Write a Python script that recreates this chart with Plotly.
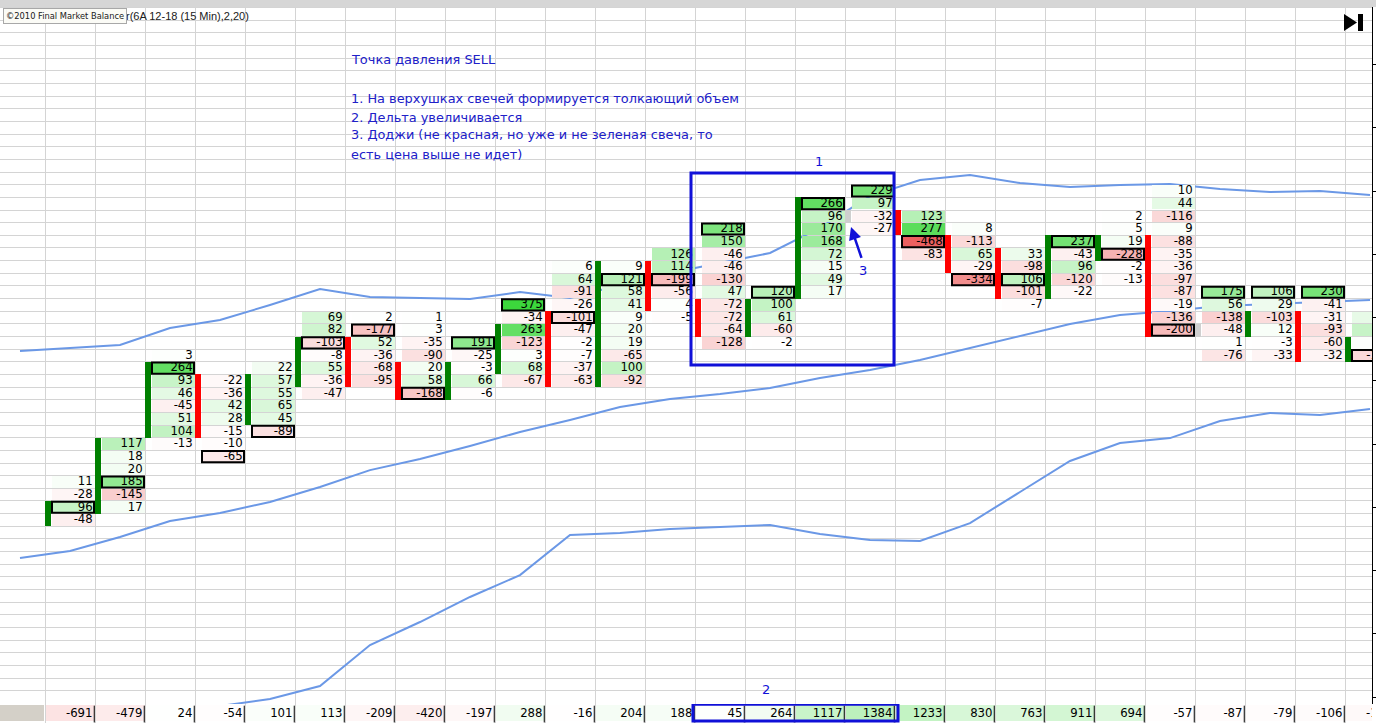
import plotly.graph_objects as go

# ---------------- data ----------------
# each candle column: top row (row 0 = upper price level, increasing downward), cell deltas top->bottom
candle_top_rows = [23, 20, 13, 15, 14, 10, 10, 10, 12, 9, 6, 6, 5, 3, 8, 1, 0, 2, 3, 5, 4, 2, 0, 8, 8, 8, 10]
candle_values = [
    [11, -28, 96, -48],
    [117, 18, 20, 185, -145, 17],
    [3, 264, 93, 46, -45, 51, 104, -13],
    [-22, -36, 42, 28, -15, -10, -65],
    [22, 57, 55, 65, 45, -89],
    [69, 82, -103, -8, 55, -36, -47],
    [2, -177, 52, -36, -68, -95],
    [1, 3, -35, -90, 20, 58, -168],
    [191, -25, -3, 66, -6],
    [375, -34, 263, -123, 3, 68, -67],
    [6, 64, -91, -26, -101, -47, -2, -7, -37, -63],
    [9, 121, 58, 41, 9, 20, 19, -65, 100, -92],
    [126, 114, -199, -56, 4, -5],
    [218, 150, -46, -46, -130, 47, -72, -72, -64, -128],
    [120, 100, 61, -60, -2],
    [266, 96, 170, 168, 72, 15, 49, 17],
    [229, 97, -32, -27],
    [123, 277, -468, -83],
    [8, -113, 65, -29, -334],
    [33, -98, 106, -101, -7],
    [237, -43, 96, -120, -22],
    [2, 5, 19, -228, -2, -13],
    [10, 44, -116, 9, -88, -35, -36, -97, -87, -19, -136, -200],
    [175, 56, -138, -48, 1, -76],
    [106, 29, -103, 12, -3, -33],
    [230, -41, -31, -93, -60, -32],
    [40, 95, 5, -110],
]
# index of the max-volume (boxed) cell in each candle
box_index = [2, 3, 1, 6, 5, 2, 1, 6, 0, 0, 4, 1, 2, 0, 0, 0, 0, 2, 4, 2, 0, 3, 11, 0, 0, 0, 3]
# candle body (open/close rows) and direction
body_top = [25, 20, 14, 15, 15, 12, 12, 14, 14, 11, 10, 6, 6, 9, 9, 1, 2, 2, 4, 5, 4, 4, 4, 11, 10, 10, 12]
body_bottom = [26, 25, 19, 19, 18, 15, 15, 16, 16, 14, 15, 15, 9, 11, 11, 8, 2, 3, 6, 8, 8, 5, 11, 11, 11, 13, 13]
body_dir = ["up", "up", "up", "down", "up", "up", "down", "down", "up", "up", "down", "up", "down", "down",
            "up", "up", "doji", "down", "down", "down", "up", "up", "down", "doji", "up", "down", "up"]
# bar delta row
delta_values = [-691, -479, 24, -54, 101, 113, -209, -420, -197, 288, -16, 204, 188, 45, 264, 1117, 1384,
                1233, 830, 763, 911, 694, -57, -87, -79, -106, -150]
# Bollinger-type bands (in row units)
upper_band = [12.65, 12.41, 12.17, 10.83, 10.20, 9.01, 7.75, 8.38, 8.46, 8.54, 7.98, 8.46, 7.43, 6.48,
              5.69, 4.90, 2.92, 0.40, -0.87, -1.26, -0.63, -0.32, -0.47, -0.55, -0.16, 0.08, 0.00, 0.32]
middle_band = [29.01, 28.46, 27.35, 26.09, 25.45, 24.58, 23.40, 22.06, 21.19, 20.16, 19.05, 18.10, 17.08,
               16.44, 16.05, 15.57, 14.78, 14.15, 13.36, 12.41, 11.46, 10.51, 9.80, 9.49, 9.09, 8.93, 8.77, 8.62]
lower_band = [43.79, 43.00, 42.13, 41.34, 40.71, 40.16, 39.13, 35.89, 34.07, 32.09, 30.36, 27.19, 27.04,
              26.72, 26.56, 26.40, 27.11, 27.59, 27.67, 26.25, 23.79, 21.34, 19.92, 19.53, 18.18, 17.55, 17.71, 17.23]

note_title = "Точка давления SELL"
note_lines = ["1. На верхушках свечей формируется толкающий объем",
              "2. Дельта увеличивается",
              "3. Доджи (не красная, но уже и не зеленая свеча, то",
              "есть цена выше не идет)"]

# ---------------- layout geometry ----------------
W, H = 1376, 723
X0, X1 = -0.9, 26.54          # columns visible
Y_TOP, Y_BOT = -15.1, 40.55   # rows visible
DELTA_FRAC = 19 / H
FONT_CELL = "DejaVu Sans Condensed, Liberation Sans, sans-serif"
CELL_SIZE = 13
BLUE = "#1010d8"


def px(x):
    return x / W


def py(y):
    return 1 - y / H


def cell_color(v, pos_scale=330.0, neg_scale=480.0):
    if v >= 0:
        t = min(v / pos_scale, 1.0)
        r = 255 - t * (255 - 60)
        g = 255 - t * (255 - 215)
        return f"rgb({r:.0f},{g:.0f},{r:.0f})"
    t = min(-v / neg_scale, 1.0)
    r = 255 - t * (255 - 236)
    g = 255 - t * (255 - 92)
    return f"rgb({r:.0f},{g:.0f},{g:.0f})"


fig = go.Figure()

# bands on the base subplot (drawn beneath the footprint overlay)
band_x = [k - 0.5 for k in range(len(upper_band))]
for band in (upper_band, middle_band, lower_band):
    fig.add_trace(go.Scatter(x=band_x, y=band, mode="lines", line=dict(color="#6b98e6", width=2),
                             hoverinfo="skip", showlegend=False))

# cells (overlay subplot y3)
last_col = len(candle_values) - 1
nx, ny, nb, nc = [], [], [], []
bx, by, bb, bc = [], [], [], []
tx, ty, tt = [], [], []
for c, (top, vals) in enumerate(zip(candle_top_rows, candle_values)):
    for i, v in enumerate(vals):
        row = top + i
        if i == box_index[c]:
            bx.append(c + 0.56); bb.append(row - 0.44); by.append(0.88); bc.append(cell_color(v))
        else:
            nx.append(c + 0.56); nb.append(row - 0.46); ny.append(0.92); nc.append(cell_color(v))
        # the last (partial) column only shows its boxed cell's label at the edge
        if c < last_col or i == box_index[c]:
            tx.append(c + 0.955); ty.append(row); tt.append(str(v))

fig.add_trace(go.Bar(x=nx, y=ny, base=nb, width=0.86, yaxis="y3",
                     marker=dict(color=nc, line=dict(width=0)),
                     hoverinfo="skip", showlegend=False))
fig.add_trace(go.Bar(x=bx, y=by, base=bb, width=0.84, yaxis="y3",
                     marker=dict(color=bc, line=dict(color="black", width=2)),
                     hoverinfo="skip", showlegend=False))

# candle bodies
body_colors = {"up": "#008000", "down": "#ff0000", "doji": "#cfcfcf"}
fig.add_trace(go.Bar(
    x=[c + 0.06 for c in range(len(body_top))],
    y=[b - t + 1 for t, b in zip(body_top, body_bottom)],
    base=[t - 0.5 for t in body_top],
    width=0.12, yaxis="y3",
    marker=dict(color=[body_colors[d] for d in body_dir], line=dict(width=0)),
    hoverinfo="skip", showlegend=False))

fig.add_trace(go.Scatter(x=tx, y=ty, text=tt, mode="text", textposition="middle left", yaxis="y3",
                         textfont=dict(family=FONT_CELL, size=CELL_SIZE, color="black"),
                         hoverinfo="skip", showlegend=False))

# delta row
dcols = list(range(len(delta_values)))
fig.add_trace(go.Bar(x=[c + 0.5 for c in dcols], y=[0.85] * len(dcols), base=[0.1] * len(dcols),
                     width=0.98, yaxis="y2",
                     marker=dict(color=[cell_color(v, 4000, 4000) for v in delta_values], line=dict(width=0)),
                     hoverinfo="skip", showlegend=False))
fig.add_trace(go.Scatter(x=[c + 0.985 for c in dcols], y=[0.47] * len(dcols), mode="markers", yaxis="y2",
                         marker=dict(symbol="line-ns", size=12, line=dict(color="black", width=1)),
                         hoverinfo="skip", showlegend=False))
fig.add_trace(go.Scatter(x=[c + 0.95 for c in dcols], y=[0.5] * len(dcols), text=[str(v) for v in delta_values],
                         mode="text", textposition="middle left", yaxis="y2",
                         textfont=dict(family=FONT_CELL, size=CELL_SIZE, color="black"),
                         hoverinfo="skip", showlegend=False))

shapes = [
    # top window strip
    dict(type="rect", xref="paper", yref="paper", x0=0, x1=1, y0=py(7), y1=1,
         fillcolor="#d6d6d6", line=dict(width=0), layer="above"),
    # header cell of delta row
    dict(type="rect", xref="x", yref="y2", x0=X0, x1=-0.02, y0=0.1, y1=0.95,
         fillcolor="#d4d0c8", line=dict(width=0), layer="below"),
    # highlighted cluster (candles 14..17)
    dict(type="rect", xref="x", yref="y", x0=12.92, x1=16.98, y0=-1.42, y1=13.75,
         line=dict(color=BLUE, width=3), fillcolor="rgba(0,0,0,0)", layer="above"),
    dict(type="rect", xref="x", yref="y2", x0=12.96, x1=17.06, y0=0.1, y1=0.99,
         line=dict(color=BLUE, width=3), fillcolor="rgba(0,0,0,0)", layer="above"),
    # play-to-end icon
    dict(type="path", xref="paper", yref="paper",
         path=f"M {px(1344)} {py(14)} L {px(1344)} {py(31)} L {px(1357)} {py(22.5)} Z",
         fillcolor="black", line=dict(width=0), layer="above"),
    dict(type="rect", xref="paper", yref="paper", x0=px(1358), x1=px(1363), y0=py(31), y1=py(14),
         fillcolor="black", line=dict(width=0), layer="above"),
]

annotations = [
    dict(xref="paper", yref="paper", x=px(124), y=py(16), xanchor="left", yanchor="middle",
         text="r(6A 12-18 (15 Min),2,20)", showarrow=False,
         font=dict(family="Liberation Sans", size=11, color="#202020")),
    dict(xref="paper", yref="paper", x=px(3), y=py(8), xanchor="left", yanchor="top",
         text="©2010 Final Market Balance", showarrow=False, bgcolor="#fbfbf6",
         bordercolor="#a8a8a8", borderwidth=1, borderpad=2,
         font=dict(family="DejaVu Sans", size=8.3, color="#202020")),
    dict(xref="x", yref="y", x=15.48, y=-2.3, text="1", showarrow=False,
         font=dict(family="DejaVu Sans", size=13, color=BLUE)),
    dict(xref="x", yref="y", x=14.42, y=39.4, text="2", showarrow=False,
         font=dict(family="DejaVu Sans", size=13, color=BLUE)),
    dict(xref="x", yref="y", x=16.36, y=6.3, text="3", showarrow=False,
         font=dict(family="DejaVu Sans", size=13, color=BLUE)),
    dict(xref="x", yref="y", axref="x", ayref="y", x=16.12, y=2.85, ax=16.34, ay=5.4,
         showarrow=True, arrowhead=2, arrowsize=1, arrowwidth=2.5, arrowcolor=BLUE, text=""),
]
note_rows = [-10.36, -7.35, -5.85, -4.43, -2.85]
for txt, r in zip([note_title] + note_lines, note_rows):
    annotations.append(dict(xref="x", yref="y", x=6.08, y=r, xanchor="left", yanchor="middle",
                            text=txt, showarrow=False,
                            font=dict(family="DejaVu Sans", size=12.9, color="#2020c8")))

fig.update_layout(
    width=W, height=H, margin=dict(l=0, r=0, t=0, b=0),
    paper_bgcolor="white", plot_bgcolor="white",
    barmode="overlay", bargap=0, showlegend=False,
    xaxis=dict(domain=[0, 1372 / W], range=[X0, X1], tickvals=list(range(-1, 28)),
               showgrid=True, gridcolor="#d4d4d4", gridwidth=1, showticklabels=False,
               ticks="", zeroline=False, showline=False, fixedrange=True, anchor="y"),
    yaxis=dict(domain=[DELTA_FRAC, 1], range=[Y_BOT, Y_TOP], tickvals=[r + 0.5 for r in range(-16, 41)],
               showgrid=True, gridcolor="#d4d4d4", gridwidth=1, showticklabels=False,
               ticks="", zeroline=False, showline=False, fixedrange=True, anchor="x"),
    yaxis2=dict(domain=[0, DELTA_FRAC], range=[0, 1], showgrid=False, showticklabels=False,
                ticks="", zeroline=False, showline=False, fixedrange=True, anchor="x"),
    yaxis3=dict(overlaying="y", side="right", anchor="x", range=[Y_BOT, Y_TOP],
                tickvals=list(range(-10, 41, 5)), ticks="outside", ticklen=4, tickcolor="black",
                showticklabels=False, showgrid=False, zeroline=False,
                showline=True, linecolor="black", linewidth=1, fixedrange=True),
    shapes=shapes, annotations=annotations,
)

fig.write_html("out.html", config={"displayModeBar": False, "staticPlot": True},
               post_script="document.body.style.margin='0';document.body.style.overflow='hidden';")
